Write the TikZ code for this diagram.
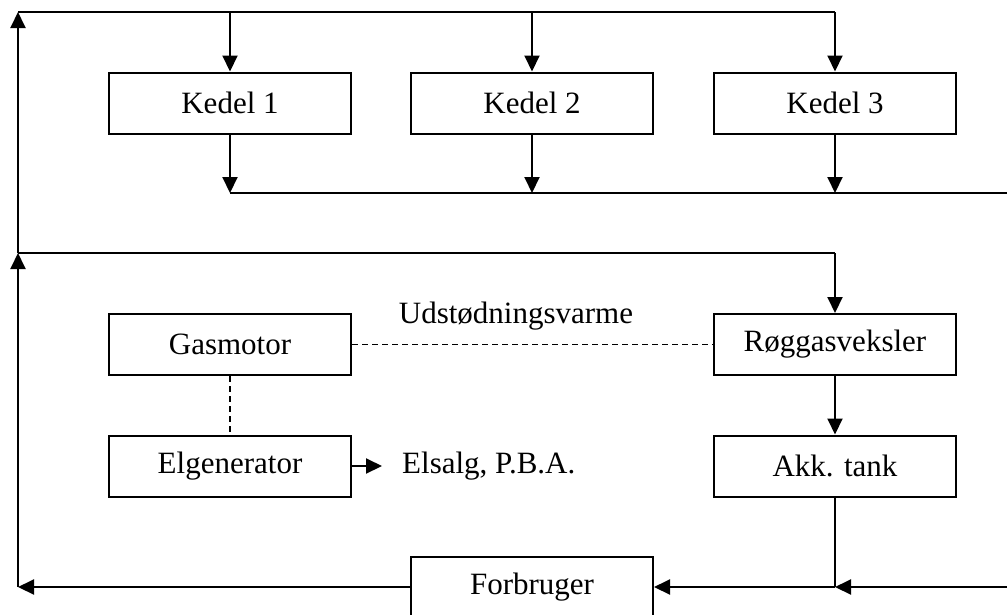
\documentclass[tikz,border=0pt]{standalone}
\usepackage{fontspec}
\setmainfont{Liberation Serif}
\usetikzlibrary{arrows.meta}
\begin{document}
\begin{tikzpicture}[x=1pt,y=-1pt,
  box/.style={draw,line width=2pt,minimum width=242pt,minimum height=61pt,inner sep=0pt,font=\fontsize{31}{36}\selectfont},
  flow/.style={line width=2pt,-{Triangle[length=16pt,width=15pt]}},
  pipe/.style={line width=2pt},
  link/.style={line width=1.5pt,dash pattern=on 6pt off 4pt},
  lbl/.style={font=\fontsize{31}{36}\selectfont,inner sep=0pt}]
\useasboundingbox (0,0) rectangle (1007,614);
% boxes
\node[box] (k1) at (230,103) {Kedel 1};
\node[box] (k2) at (532,103) {Kedel 2};
\node[box] (k3) at (835,103) {Kedel 3};
\node[box] (gm) at (230,344.5) {Gasmotor};
\node[box] (rv) at (835,344.5) {Røggasveksler};
\node[box] (eg) at (230,466) {Elgenerator};
\node[box] (ak) at (835,466) {Akk. tank};
\node[box] (fb) at (532,587) {Forbruger};
% coordinates
\coordinate (tl) at (18,12);
\coordinate (t1) at (230,12);
\coordinate (t2) at (532,12);
\coordinate (t3) at (835,12);
\coordinate (ml) at (18,253);
\coordinate (mr) at (835,253);
\coordinate (c1) at (230,193);
\coordinate (c2) at (532,193);
\coordinate (c3) at (835,193);
\coordinate (cr) at (1007,193);
\coordinate (bl) at (18,587);
\coordinate (bj) at (835,587);
\coordinate (br) at (1007,587);
\coordinate (es) at (382,466);
% upper loop
\draw[flow] (ml) -- (tl);
\draw[pipe] (tl) -- (t3);
\draw[flow] (t1) -- (k1.north);
\draw[flow] (t2) -- (k2.north);
\draw[flow] (t3) -- (k3.north);
\draw[flow] (k1.south) -- (c1);
\draw[flow] (k2.south) -- (c2);
\draw[flow] (k3.south) -- (c3);
\draw[pipe] (c1) -- (cr);
% lower loop
\draw[flow] (bl) -- (ml);
\draw[pipe] (ml) -- (mr);
\draw[flow] (mr) -- (rv.north);
\draw[flow] (rv.south) -- (ak.north);
\draw[line width=1.5pt] (ak.south) -- (bj);
\draw[flow] (br) -- (bj);
\draw[flow] (bj) -- (fb.east);
\draw[flow] (fb.west) -- (bl);
% dashed links
\draw[link] (gm.east) -- (rv.west);
\draw[link] (gm.south) -- (eg.north);
\draw[flow] (eg.east) -- (es);
% labels
\node[lbl,anchor=base] (ud) at (516,323) {Udstødningsvarme};
\node[lbl,anchor=west] (el) at (402,466) {Elsalg, P.B.A.};
\end{tikzpicture}
\end{document}
